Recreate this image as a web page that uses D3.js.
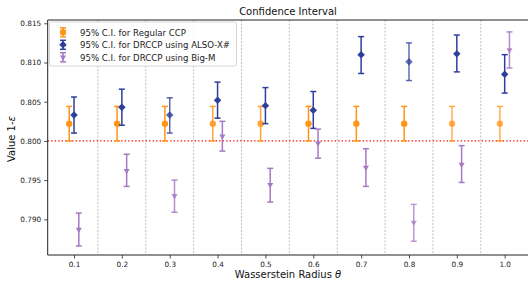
<!DOCTYPE html>
<html>
<head>
<meta charset="utf-8">
<script src="https://cdn.jsdelivr.net/npm/d3@7"></script>
<style>
  body { margin: 0; background: #fff; }
  text { font-family: "DejaVu Sans", sans-serif; }
</style>
</head>
<body>
<script>
// radius values
var thetas = [0.1, 0.2, 0.3, 0.4, 0.5, 0.6, 0.7, 0.8, 0.9, 1.0];
var xTicks = ['0.1', '0.2', '0.3', '0.4', '0.5', '0.6', '0.7', '0.8', '0.9', '1.0'];
var yTicks = [0.790, 0.795, 0.800, 0.805, 0.810, 0.815];

// Regular CCP
var ccpMean = [0.8022, 0.8022, 0.8022, 0.8022, 0.8022, 0.8022, 0.8022, 0.8022, 0.8022, 0.8022];
var ccpLow  = [0.8000, 0.8000, 0.8000, 0.8000, 0.8000, 0.8000, 0.8000, 0.8000, 0.8000, 0.8000];
var ccpHigh = [0.8044, 0.8044, 0.8044, 0.8044, 0.8044, 0.8044, 0.8044, 0.8044, 0.8044, 0.8044];

// DRCCP using ALSO-X#
var alsoMean = [0.8033, 0.8043, 0.8033, 0.8052, 0.8045, 0.8039, 0.8110, 0.8101, 0.8111, 0.8085];
var alsoLow  = [0.8010, 0.8020, 0.8010, 0.8029, 0.8022, 0.8016, 0.8086, 0.8077, 0.8088, 0.8061];
var alsoHigh = [0.8056, 0.8066, 0.8055, 0.8075, 0.8068, 0.8063, 0.8133, 0.8125, 0.8135, 0.8110];

// DRCCP using Big-M
var bigMean = [0.7887, 0.7962, 0.7930, 0.8006, 0.7944, 0.7997, 0.7966, 0.7896, 0.7970, 0.8116];
var bigLow  = [0.7866, 0.7942, 0.7909, 0.7987, 0.7922, 0.7978, 0.7942, 0.7872, 0.7947, 0.8093];
var bigHigh = [0.7908, 0.7983, 0.7950, 0.8025, 0.7965, 0.8015, 0.7990, 0.7919, 0.7994, 0.8139];

var width = 528, height = 284;
var padLeft = 47.7, padRight = 531, padTop = 20, padBottom = 255;

var svg = d3.select('body').append('svg')
  .attr('width', width)
  .attr('height', height);

var x = d3.scaleLinear().domain([0.045, 1.055]).range([padLeft, padRight]);
var y = d3.scaleLinear().domain([0.78545, 0.81542]).range([padBottom, padTop]);

// vertical separators between radii
var seps = thetas.slice(0, 9).map(t => t + 0.05);
svg.selectAll('.sep')
  .data(seps)
  .enter()
  .append('line')
  .attr('x1', d => x(d)).attr('x2', d => x(d))
  .attr('y1', padTop).attr('y2', padBottom)
  .attr('stroke', '#b0b0b0')
  .attr('stroke-width', 0.8)
  .attr('stroke-dasharray', '2,1.5');

// reference line at 0.8
svg.append('line')
  .attr('x1', padLeft).attr('x2', padRight)
  .attr('y1', y(0.8)).attr('y2', y(0.8))
  .attr('stroke', '#ff0000')
  .attr('stroke-width', 1.3)
  .attr('stroke-dasharray', '1.3,2.2');

function drawSeries(mean, low, high, off, color, shape, size, opac) {
  var g = svg.append('g');
  var cap = 3;
  thetas.forEach(function(t, i) {
    var cx = x(t + off);
    var o = opac[i];
    g.append('line')
      .attr('x1', cx).attr('x2', cx)
      .attr('y1', y(low[i])).attr('y2', y(high[i]))
      .attr('stroke', color).attr('stroke-width', 1.5).attr('opacity', o);
    [low[i], high[i]].forEach(function(v) {
      g.append('line')
        .attr('x1', cx - cap).attr('x2', cx + cap)
        .attr('y1', y(v)).attr('y2', y(v))
        .attr('stroke', color).attr('stroke-width', 1.5).attr('opacity', o);
    });
    g.append('path')
      .attr('d', d3.symbol().type(shape).size(size)())
      .attr('transform', 'translate(' + cx + ',' + y(mean[i]) + ')' + (shape === d3.symbolSquare ? ' rotate(45)' : shape === d3.symbolTriangle ? ' rotate(180)' : ''))
      .attr('fill', color).attr('opacity', o);
  });
}

var ccpOp  = [1, 1, 1, 0.85, 0.85, 1, 1, 1, 0.75, 0.75];
var alsoOp = [1, 1, 0.8, 1, 1, 1, 1, 0.75, 1, 1];
var bigOp  = [1, 1, 0.85, 1, 1, 1, 1, 0.75, 1, 0.85];

var orange = '#ff9416', blue = '#2c3f9c', purple = '#a679c4';
drawSeries(ccpMean, ccpLow, ccpHigh, -0.01, orange, d3.symbolCircle, 32, ccpOp);
drawSeries(alsoMean, alsoLow, alsoHigh, 0, blue, d3.symbolSquare, 28, alsoOp);
drawSeries(bigMean, bigLow, bigHigh, 0.01, purple, d3.symbolTriangle, 16, bigOp);

// axes
var xAxis = d3.axisBottom(x).tickValues(thetas).tickFormat((d, i) => xTicks[i]).tickSize(3.5).tickPadding(3);
var yAxis = d3.axisLeft(y).tickValues(yTicks).tickFormat(d3.format('.3f')).tickSize(3.5).tickPadding(3);

var gx = svg.append('g').attr('transform', 'translate(0,' + padBottom + ')').call(xAxis);
var gy = svg.append('g').attr('transform', 'translate(' + padLeft + ',0)').call(yAxis);
[gx, gy].forEach(function(g) {
  g.select('.domain').remove();
  g.selectAll('text').attr('font-size', 7.3).attr('fill', '#222').attr('font-family', '"DejaVu Sans", sans-serif');
  g.selectAll('line').attr('stroke', '#222').attr('stroke-width', 0.8);
});

// spines
svg.append('line').attr('x1', padLeft).attr('x2', padLeft).attr('y1', padTop).attr('y2', padBottom).attr('stroke', '#222').attr('stroke-width', 1);
svg.append('line').attr('x1', padLeft).attr('x2', padRight).attr('y1', padBottom).attr('y2', padBottom).attr('stroke', '#222').attr('stroke-width', 1);
svg.append('line').attr('x1', padLeft).attr('x2', padRight).attr('y1', padTop).attr('y2', padTop).attr('stroke', '#222').attr('stroke-width', 1);

// titles
svg.append('text').attr('x', 288).attr('y', 15).attr('text-anchor', 'middle')
  .attr('font-size', 10).attr('fill', '#111').text('Confidence Interval');
svg.append('text').attr('x', 288).attr('y', 277.5).attr('text-anchor', 'middle')
  .attr('font-size', 10).attr('fill', '#111')
  .html('Wasserstein Radius <tspan font-style="italic">θ</tspan>');
svg.append('text').attr('transform', 'translate(15,139) rotate(-90)').attr('text-anchor', 'middle')
  .attr('font-size', 10).attr('fill', '#111')
  .html('Value 1-<tspan font-style="italic">ε</tspan>');

// legend
var legend = svg.append('g');
legend.append('rect')
  .attr('x', 49.5).attr('y', 22).attr('width', 187).attr('height', 44).attr('rx', 2)
  .attr('fill', '#fff').attr('fill-opacity', 0.85).attr('stroke', '#ccc').attr('stroke-width', 0.8);
var items = [
  ['95% C.I. for Regular CCP', orange, d3.symbolCircle, 32],
  ['95% C.I. for DRCCP using ALSO-X#', blue, d3.symbolSquare, 28],
  ['95% C.I. for DRCCP using Big-M', purple, d3.symbolTriangle, 16]
];
items.forEach(function(it, i) {
  var ly = 32.3 + i * 12.5;
  var lx = 63;
  legend.append('line').attr('x1', lx).attr('x2', lx).attr('y1', ly - 4.5).attr('y2', ly + 4.5)
    .attr('stroke', it[1]).attr('stroke-width', 1.5);
  [ly - 4.5, ly + 4.5].forEach(function(v) {
    legend.append('line').attr('x1', lx - 3).attr('x2', lx + 3).attr('y1', v).attr('y2', v)
      .attr('stroke', it[1]).attr('stroke-width', 1.5);
  });
  legend.append('path').attr('d', d3.symbol().type(it[2]).size(it[3])())
    .attr('transform', 'translate(' + lx + ',' + ly + ')' + (it[2] === d3.symbolSquare ? ' rotate(45)' : it[2] === d3.symbolTriangle ? ' rotate(180)' : ''))
    .attr('fill', it[1]);
  legend.append('text').attr('x', 80).attr('y', ly + 3.2).attr('font-size', 8.6).attr('fill', '#222').text(it[0]);
});
</script>
</body>
</html>
